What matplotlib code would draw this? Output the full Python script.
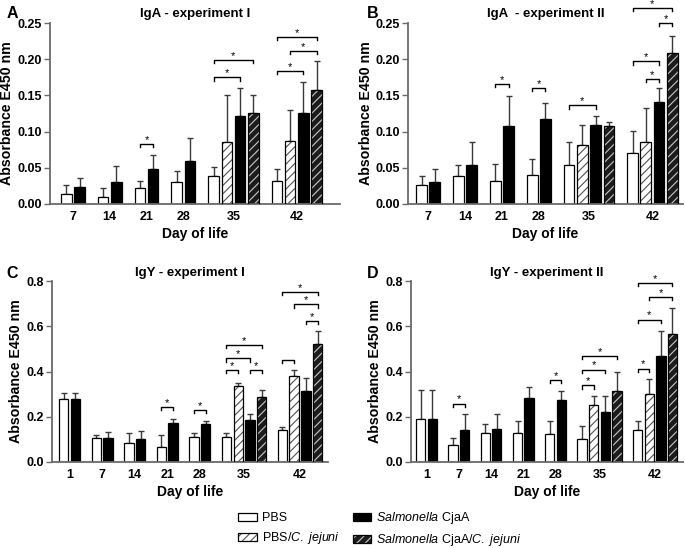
import numpy as np
import matplotlib
matplotlib.use('Agg')
import matplotlib.pyplot as plt
from matplotlib.patches import Patch
from matplotlib.legend_handler import HandlerTuple

plt.rcParams['font.family'] = 'Liberation Sans'
plt.rcParams['mathtext.fontset'] = 'custom'
plt.rcParams['mathtext.it'] = 'Liberation Sans:italic'
plt.rcParams['mathtext.rm'] = 'Liberation Sans'
plt.rcParams['hatch.linewidth'] = 0.8

### --- data (mean, SD) --- ###
# IgA - experiment I
A_days = [7, 14, 21, 28, 35, 42]
A_pbs = [0.013, 0.010, 0.022, 0.030, 0.038, 0.032]
A_pbs_sd = [0.013, 0.012, 0.009, 0.015, 0.013, 0.016]
A_pbs_cj = [None, None, None, None, 0.085, 0.087]
A_pbs_cj_sd = [None, None, None, None, 0.066, 0.043]
A_sal = [0.023, 0.030, 0.048, 0.059, 0.121, 0.125]
A_sal_sd = [0.013, 0.023, 0.020, 0.032, 0.039, 0.044]
A_sal_cj = [None, None, None, None, 0.125, 0.158]
A_sal_cj_sd = [None, None, None, None, 0.025, 0.040]
A_sig = [(21, 'pbs', 'sal', 0.083, True), (35, 'pbs', 'sal', 0.175, True),
         (35, 'pbs', 'sal_cj', 0.199, True), (42, 'pbs', 'sal', 0.184, True),
         (42, 'pbs_cj', 'sal_cj', 0.211, True), (42, 'pbs', 'sal_cj', 0.231, True)]

# IgA - experiment II
B_days = [7, 14, 21, 28, 35, 42]
B_pbs = [0.026, 0.039, 0.031, 0.040, 0.054, 0.070]
B_pbs_sd = [0.012, 0.015, 0.024, 0.022, 0.031, 0.031]
B_pbs_cj = [None, None, None, None, 0.081, 0.085]
B_pbs_cj_sd = [None, None, None, None, 0.028, 0.048]
B_sal = [0.030, 0.054, 0.107, 0.117, 0.109, 0.141]
B_sal_sd = [0.018, 0.031, 0.042, 0.022, 0.013, 0.019]
B_sal_cj = [None, None, None, None, 0.107, 0.208]
B_sal_cj_sd = [None, None, None, None, 0.006, 0.024]
B_sig = [(21, 'pbs', 'sal', 0.166, True), (28, 'pbs', 'sal', 0.160, True),
         (35, 'pbs', 'sal', 0.136, True), (42, 'pbs', 'sal', 0.197, True),
         (42, 'pbs_cj', 'sal', 0.173, True), (42, 'sal', 'sal_cj', 0.250, True),
         (42, 'pbs', 'sal_cj', 0.271, True)]

# IgY - experiment I
C_days = [1, 7, 14, 21, 28, 35, 42]
C_pbs = [0.280, 0.108, 0.083, 0.068, 0.111, 0.111, 0.140]
C_pbs_sd = [0.026, 0.013, 0.047, 0.053, 0.017, 0.019, 0.015]
C_pbs_cj = [None, None, None, None, None, 0.337, 0.379]
C_pbs_cj_sd = [None, None, None, None, None, 0.014, 0.027]
C_sal = [0.280, 0.108, 0.100, 0.173, 0.167, 0.185, 0.314]
C_sal_sd = [0.026, 0.025, 0.037, 0.016, 0.015, 0.025, 0.059]
C_sal_cj = [None, None, None, None, None, 0.288, 0.524]
C_sal_cj_sd = [None, None, None, None, None, 0.029, 0.056]
C_sig = [(21, 'pbs', 'sal', 0.243, True), (28, 'pbs', 'sal', 0.229, True),
         (35, 'pbs', 'pbs_cj', 0.406, True), (35, 'sal', 'sal_cj', 0.406, True),
         (35, 'pbs', 'sal', 0.458, True), (35, 'pbs', 'sal_cj', 0.517, True),
         (42, 'pbs', 'pbs_cj', 0.450, False), (42, 'sal', 'sal_cj', 0.624, True),
         (42, 'pbs_cj', 'sal_cj', 0.697, True), (42, 'pbs', 'sal_cj', 0.753, True)]

# IgY - experiment II
D_days = [1, 7, 14, 21, 28, 35, 42]
D_pbs = [0.192, 0.074, 0.128, 0.128, 0.125, 0.100, 0.140]
D_pbs_sd = [0.128, 0.034, 0.042, 0.054, 0.057, 0.059, 0.040]
D_pbs_cj = [None, None, None, None, None, 0.251, 0.302]
D_pbs_cj_sd = [None, None, None, None, None, 0.041, 0.067]
D_sal = [0.192, 0.143, 0.148, 0.285, 0.273, 0.221, 0.469]
D_sal_sd = [0.128, 0.071, 0.062, 0.047, 0.041, 0.070, 0.111]
D_sal_cj = [None, None, None, None, None, 0.314, 0.565]
D_sal_cj_sd = [None, None, None, None, None, 0.082, 0.114]
D_sig = [(7, 'pbs', 'sal', 0.258, True), (28, 'pbs', 'sal', 0.362, True),
         (35, 'pbs', 'pbs_cj', 0.339, True), (35, 'pbs', 'sal', 0.409, True),
         (35, 'pbs', 'sal_cj', 0.469, True), (42, 'pbs', 'pbs_cj', 0.413, True),
         (42, 'pbs', 'sal', 0.630, True), (42, 'pbs_cj', 'sal_cj', 0.730, True),
         (42, 'pbs', 'sal_cj', 0.792, True)]

# bar looks: face, hatch, hatch colour
STYLE = {'pbs': ('white', None, None),
         'pbs_cj': ('white', '////', '#505050'),
         'sal': ('black', None, None),
         'sal_cj': ('#1c1c1c', '////', '#c8c8c8')}
AXCOL = '#6a6a6a'
GAP = 0.78
W = 0.8


def draw_bar(ax, x, h, sd, key):
    face, hatch, hc = STYLE[key]
    ax.errorbar(x, h, yerr=[[0], [sd]], fmt='none', ecolor='#3a3a3a',
                elinewidth=1.0, capsize=2.2, capthick=1.0, zorder=1)
    if hatch:
        ax.bar(x, h, W, color=face, edgecolor=hc, hatch=hatch, linewidth=0, zorder=2)
        ax.bar(x, h, W, facecolor='none', edgecolor='black', linewidth=0.9, zorder=3)
    else:
        ax.bar(x, h, W, color=face, edgecolor='black', linewidth=0.9, zorder=2)


def draw_panel(ax, days, series, sig, ymax, yticks, fmt, title, lm, rm):
    x = 0.0
    centers = []
    pos = {}
    for i, d in enumerate(days):
        keys = [k for k in ['pbs', 'pbs_cj', 'sal', 'sal_cj'] if series[k][0][i] is not None]
        xs = x + np.arange(len(keys))
        for k, xx in zip(keys, xs):
            draw_bar(ax, xx, series[k][0][i], series[k][1][i], k)
            pos[(d, k)] = xx
        centers.append(xs.mean())
        x = xs[-1] + 1 + GAP
    last = x - 1 - GAP

    # significance brackets
    tick = 0.018 * ymax
    for d, k1, k2, y, star in sig:
        x1, x2 = pos[(d, k1)], pos[(d, k2)]
        ax.plot([x1, x1, x2, x2], [y - tick, y, y, y - tick], color='black', lw=1.0,
                clip_on=False, zorder=4)
        if star:
            ax.annotate('*', ((x1 + x2) / 2, y), xytext=(0, 0.8), textcoords='offset points',
                        ha='center', va='baseline', fontsize=8, annotation_clip=False)

    ax.set_xlim(-W / 2 - lm, last + W / 2 + rm)
    ax.set_ylim(0, ymax)
    ax.set_xticks(centers)
    ax.set_xticklabels([str(d) for d in days])
    ax.set_yticks(yticks)
    ax.set_yticklabels([fmt.format(v) for v in yticks])
    for lab in ax.get_xticklabels() + ax.get_yticklabels():
        lab.set_fontweight('bold')
        lab.set_fontsize(9)
    ax.tick_params(axis='x', length=0, pad=5)
    ax.tick_params(axis='y', length=4, width=1.0, color=AXCOL, pad=2)
    for s in ['top', 'right']:
        ax.spines[s].set_visible(False)
    for s in ['left', 'bottom']:
        ax.spines[s].set_color(AXCOL)
        ax.spines[s].set_linewidth(1.3)
    ax.set_xlabel('Day of life', fontsize=10, fontweight='bold', labelpad=3)
    ax.set_ylabel('Absorbance E450 nm', fontsize=10.2, fontweight='bold', labelpad=2)
    ax.set_title(title, fontsize=9.5, fontweight='bold', pad=4)
    return ax


fig = plt.figure(figsize=(6.85, 5.48), dpi=100)
axA = fig.add_axes([0.073, 0.628, 0.423, 0.330])
axB = fig.add_axes([0.596, 0.628, 0.401, 0.330])
axC = fig.add_axes([0.076, 0.157, 0.403, 0.330])
axD = fig.add_axes([0.600, 0.157, 0.397, 0.330])

ticks_a = [0, 0.05, 0.10, 0.15, 0.20, 0.25]
ticks_y = [0, 0.2, 0.4, 0.6, 0.8]

draw_panel(axA, A_days, {'pbs': (A_pbs, A_pbs_sd), 'pbs_cj': (A_pbs_cj, A_pbs_cj_sd),
                         'sal': (A_sal, A_sal_sd), 'sal_cj': (A_sal_cj, A_sal_cj_sd)},
           A_sig, 0.25, ticks_a, '{:.2f}', 'IgA - experiment I', 0.83, 1.35)
draw_panel(axB, B_days, {'pbs': (B_pbs, B_pbs_sd), 'pbs_cj': (B_pbs_cj, B_pbs_cj_sd),
                         'sal': (B_sal, B_sal_sd), 'sal_cj': (B_sal_cj, B_sal_cj_sd)},
           B_sig, 0.25, ticks_a, '{:.2f}', 'IgA  - experiment II', 0.6, 0.4)
draw_panel(axC, C_days, {'pbs': (C_pbs, C_pbs_sd), 'pbs_cj': (C_pbs_cj, C_pbs_cj_sd),
                         'sal': (C_sal, C_sal_sd), 'sal_cj': (C_sal_cj, C_sal_cj_sd)},
           C_sig, 0.8, ticks_y, '{:.1f}', 'IgY - experiment I', 0.6, 0.5)
draw_panel(axD, D_days, {'pbs': (D_pbs, D_pbs_sd), 'pbs_cj': (D_pbs_cj, D_pbs_cj_sd),
                         'sal': (D_sal, D_sal_sd), 'sal_cj': (D_sal_cj, D_sal_cj_sd)},
           D_sig, 0.8, ticks_y, '{:.1f}', 'IgY - experiment II', 0.43, 0.5)

# panel letters
for lett, (px, py) in zip('ABCD', [(0.010, 0.976), (0.535, 0.976), (0.010, 0.500), (0.535, 0.500)]):
    fig.text(px, py, lett, fontsize=11.5, fontweight='bold', ha='left', va='center')

# legend with proxy handles (hatch colour differs from outline)
def proxy(key):
    face, hatch, hc = STYLE[key]
    if hatch:
        return (Patch(facecolor=face, edgecolor=hc, hatch=hatch, linewidth=0),
                Patch(facecolor='none', edgecolor='black', linewidth=0.9))
    return Patch(facecolor=face, edgecolor='black', linewidth=0.9)

handles = [proxy('pbs'), proxy('pbs_cj'), proxy('sal'), proxy('sal_cj')]
labels = ['PBS', r'PBS/$\mathit{C.\ jejuni}$', r'$\mathit{Salmonella}$ CjaA',
          r'$\mathit{Salmonella}$ CjaA/$\mathit{C.\ jejuni}$']
fig.legend(handles, labels, ncol=2, loc='center', bbox_to_anchor=(0.555, 0.034),
           frameon=False, fontsize=9, handlelength=1.5, handleheight=0.6,
           handletextpad=0.4, columnspacing=1.0, labelspacing=0.5,
           handler_map={tuple: HandlerTuple(ndivide=1, pad=0)})

fig.savefig('out.png', dpi=100)
